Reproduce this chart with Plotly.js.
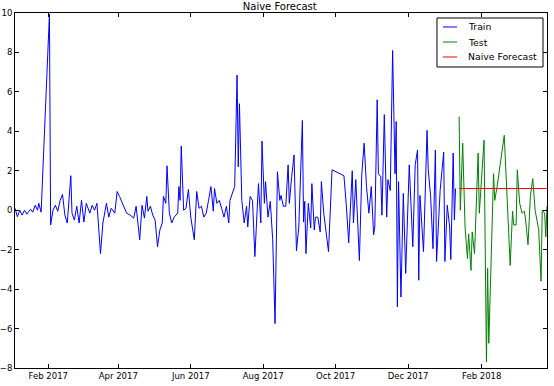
<!DOCTYPE html>
<html>
<head>
<meta charset="utf-8">
<script src="https://cdn.plot.ly/plotly-3.0.1.min.js"></script>
<style>html,body{margin:0;padding:0;background:#fff;}#chart{width:554px;height:386px;}</style>
</head>
<body>
<div id="chart"></div>
<script>
var trainDates = ["2017-01-04","2017-01-06","2017-01-08","2017-01-10","2017-01-12","2017-01-14","2017-01-17","2017-01-19","2017-01-21","2017-01-23","2017-01-24","2017-01-26",
"2017-02-02","2017-02-03","2017-02-05","2017-02-07","2017-02-09","2017-02-11","2017-02-13","2017-02-15","2017-02-17","2017-02-20","2017-02-21","2017-02-23","2017-02-25","2017-02-27",
"2017-03-01","2017-03-03","2017-03-05","2017-03-08","2017-03-10","2017-03-12","2017-03-14","2017-03-17","2017-03-19","2017-03-22","2017-03-24","2017-03-26","2017-03-29","2017-03-31",
"2017-04-02","2017-04-05","2017-04-08","2017-04-11","2017-04-14","2017-04-16","2017-04-19","2017-04-21","2017-04-23","2017-04-25","2017-04-26","2017-04-28","2017-04-30",
"2017-05-02","2017-05-04","2017-05-06","2017-05-08","2017-05-09","2017-05-11","2017-05-12","2017-05-14","2017-05-16","2017-05-18","2017-05-21","2017-05-22","2017-05-23","2017-05-24","2017-05-26","2017-05-28","2017-05-30",
"2017-06-01","2017-06-04","2017-06-06","2017-06-08","2017-06-10","2017-06-12","2017-06-14","2017-06-16","2017-06-18","2017-06-20","2017-06-21","2017-06-23","2017-06-25","2017-06-27","2017-06-29",
"2017-07-01","2017-07-03","2017-07-04","2017-07-06","2017-07-08","2017-07-10","2017-07-11","2017-07-12","2017-07-14","2017-07-16","2017-07-18","2017-07-19","2017-07-21","2017-07-23","2017-07-25","2017-07-28","2017-07-30","2017-07-31",
"2017-08-02","2017-08-03","2017-08-05","2017-08-07","2017-08-09","2017-08-11","2017-08-13","2017-08-15","2017-08-16","2017-08-18","2017-08-20","2017-08-22","2017-08-23","2017-08-25","2017-08-27","2017-08-29","2017-08-31",
"2017-09-03","2017-09-04","2017-09-05","2017-09-06","2017-09-08","2017-09-10","2017-09-11","2017-09-13","2017-09-14","2017-09-16","2017-09-18","2017-09-19","2017-09-21","2017-09-25","2017-09-28",
"2017-10-08","2017-10-10","2017-10-12","2017-10-15","2017-10-16","2017-10-18","2017-10-21","2017-10-23","2017-10-25","2017-10-27","2017-10-29","2017-10-31",
"2017-11-02","2017-11-03","2017-11-05","2017-11-06","2017-11-08","2017-11-09","2017-11-11","2017-11-13","2017-11-14","2017-11-16","2017-11-18","2017-11-20","2017-11-21","2017-11-22","2017-11-23","2017-11-25","2017-11-27","2017-11-29",
"2017-12-02","2017-12-05","2017-12-07","2017-12-09","2017-12-10","2017-12-11","2017-12-14","2017-12-17","2017-12-18","2017-12-20","2017-12-22","2017-12-24","2017-12-25","2017-12-28","2017-12-31",
"2018-01-01","2018-01-03","2018-01-05","2018-01-06","2018-01-08","2018-01-09","2018-01-10"];
var trainValues = [0.1,-0.33,0.0,-0.25,0.0,-0.2,0.05,-0.1,0.25,0.0,0.35,-0.1,
9.95,-0.75,0.0,0.25,-0.05,0.5,0.8,-0.25,-0.65,1.75,-0.15,-0.5,0.2,-0.65,
0.5,-0.6,0.35,-0.15,0.25,0.0,0.35,-2.2,-0.65,0.35,-0.35,0.1,-0.15,0.95,
0.7,0.25,-0.15,-0.25,-0.4,0.2,-1.5,0.25,-0.4,0.7,-0.05,0.2,-0.25,
-0.5,-1.85,-1.0,-0.65,0.7,0.35,2.25,-0.15,-0.65,-0.35,-0.15,1.2,0.5,3.25,0.0,0.1,1.05,
-0.35,-1.5,0.95,0.1,0.2,-0.35,-0.15,0.5,1.2,-0.05,1.1,0.35,0.5,0.1,-0.35,
0.2,-0.65,0.5,0.85,1.2,6.85,2.2,5.4,0.5,-0.65,0.2,-0.85,0.7,0.5,-2.35,1.35,-0.65,3.5,
0.35,1.45,-0.35,0.45,-1.5,-5.75,1.95,0.5,0.75,0.2,0.2,2.3,0.35,1.7,2.8,-2.05,-0.85,
4.55,-0.6,0.45,-2.2,0.35,-0.9,1.35,-1.0,-0.35,-0.35,-1.1,1.45,-0.15,-2.1,2.05,
1.75,0.25,-1.65,2.0,-0.65,1.55,-2.55,1.8,3.4,1.2,-0.15,1.2,
-1.25,-0.85,5.6,1.85,1.7,-0.25,4.85,-0.35,1.55,1.0,8.1,1.85,4.5,-4.9,1.45,-4.4,0.85,-3.2,
2.3,-1.85,2.3,3.05,-3.55,0.75,-2.1,4.05,2.05,0.7,-1.95,3.05,-2.6,1.0,2.95,
-2.6,0.25,-0.85,-2.5,2.9,-0.5,1.1];

var testDates = ["2018-01-13","2018-01-14","2018-01-16","2018-01-18","2018-01-20","2018-01-21","2018-01-23","2018-01-24","2018-01-26","2018-01-29","2018-01-30",
"2018-02-03","2018-02-05","2018-02-06","2018-02-07","2018-02-11","2018-02-12","2018-02-14","2018-02-20","2018-02-22","2018-02-25","2018-02-27","2018-02-28",
"2018-03-02","2018-03-03","2018-03-05","2018-03-07","2018-03-09","2018-03-10","2018-03-12","2018-03-14","2018-03-16","2018-03-18","2018-03-21","2018-03-23","2018-03-24","2018-03-26","2018-03-27","2018-03-28"];
var testValues = [4.75,0.0,3.4,-0.85,-2.45,-1.2,-3.05,-1.1,-2.2,2.9,-0.15,
3.55,-7.7,-2.95,-6.75,1.85,0.5,1.2,3.8,1.0,-2.8,-0.05,-0.75,
-0.75,2.05,0.35,-0.15,-0.05,-0.5,-1.75,0.7,1.6,0.0,-1.0,-3.6,0.0,-0.15,-1.35,0.2];

// naive forecast: last observed training value carried forward
var naiveValues = testDates.map(function(){ return trainValues[trainValues.length-1]; });

var seriesNames = ["Train", "Test", "Naive Forecast"];
var seriesColors = ["#0000ff", "#008000", "#ff0000"];

var yTicks = [-8,-6,-4,-2,0,2,4,6,8,10];
var xTicks = ["2017-02-01","2017-04-01","2017-06-01","2017-08-01","2017-10-01","2017-12-01","2018-02-01"];
var xTickLabels = ["Feb 2017","Apr 2017","Jun 2017","Aug 2017","Oct 2017","Dec 2017","Feb 2018"];

var font = "DejaVu Sans, sans-serif";
var xs = [trainDates, testDates, testDates];
var ys = [trainValues, testValues, naiveValues];
var traces = seriesNames.map(function(n, i){
  return {x: xs[i], y: ys[i], type: 'scatter', mode: 'lines', name: n, showlegend: false, line: {color: seriesColors[i], width: 1}};
});

// matplotlib-style legend box (paper coordinates)
var legX0 = 0.7932, legX1 = 0.9925, legY0 = 0.8479, legY1 = 0.9859;
var legRows = [0.9606, 0.9183, 0.8761];
var shapes = [{type: 'rect', xref: 'paper', yref: 'paper', x0: legX0, x1: legX1, y0: legY0, y1: legY1,
  line: {color: '#000', width: 1}, fillcolor: '#ffffff', layer: 'above'}];
var annotations = [];
seriesNames.forEach(function(n, i){
  shapes.push({type: 'line', xref: 'paper', yref: 'paper', x0: 0.8045, x1: 0.8308, y0: legRows[i], y1: legRows[i],
    line: {color: seriesColors[i], width: 1}, layer: 'above'});
  annotations.push({xref: 'paper', yref: 'paper', x: 0.8496, y: legRows[i], xanchor: 'left', yanchor: 'middle',
    text: n, showarrow: false, borderpad: 0, font: {family: font, size: 9.3, color: '#000'}});
});

var layout = {
  width: 554, height: 386,
  margin: {l: 15, r: 7, t: 13, b: 18, pad: 0},
  paper_bgcolor: '#ffffff', plot_bgcolor: '#ffffff',
  font: {family: font, color: '#000000', size: 8.5},
  title: {text: 'Naive Forecast', font: {family: font, size: 10, color: '#000'}, x: 0.505, xanchor: 'center', yref: 'container', y: 0.983, yanchor: 'middle'},
  showlegend: false,
  shapes: shapes,
  annotations: annotations,
  xaxis: {type: 'date', range: ['2017-01-04', '2018-03-28'], tickmode: 'array', tickvals: xTicks, ticktext: xTickLabels,
    showgrid: false, zeroline: false, showline: true, linecolor: '#000', linewidth: 1, mirror: 'allticks',
    ticks: 'inside', ticklen: 4, tickcolor: '#000', tickfont: {family: font, size: 8.5, color: '#000'}},
  yaxis: {range: [-8, 10], tickmode: 'array', tickvals: yTicks, showgrid: false, zeroline: false, showline: true, linecolor: '#000', linewidth: 1, mirror: 'allticks',
    ticks: 'inside', ticklen: 4, tickcolor: '#000', tickfont: {family: font, size: 8.5, color: '#000'}}
};
Plotly.newPlot('chart', traces, layout, {displayModeBar: false, staticPlot: true});
</script>
</body>
</html>
